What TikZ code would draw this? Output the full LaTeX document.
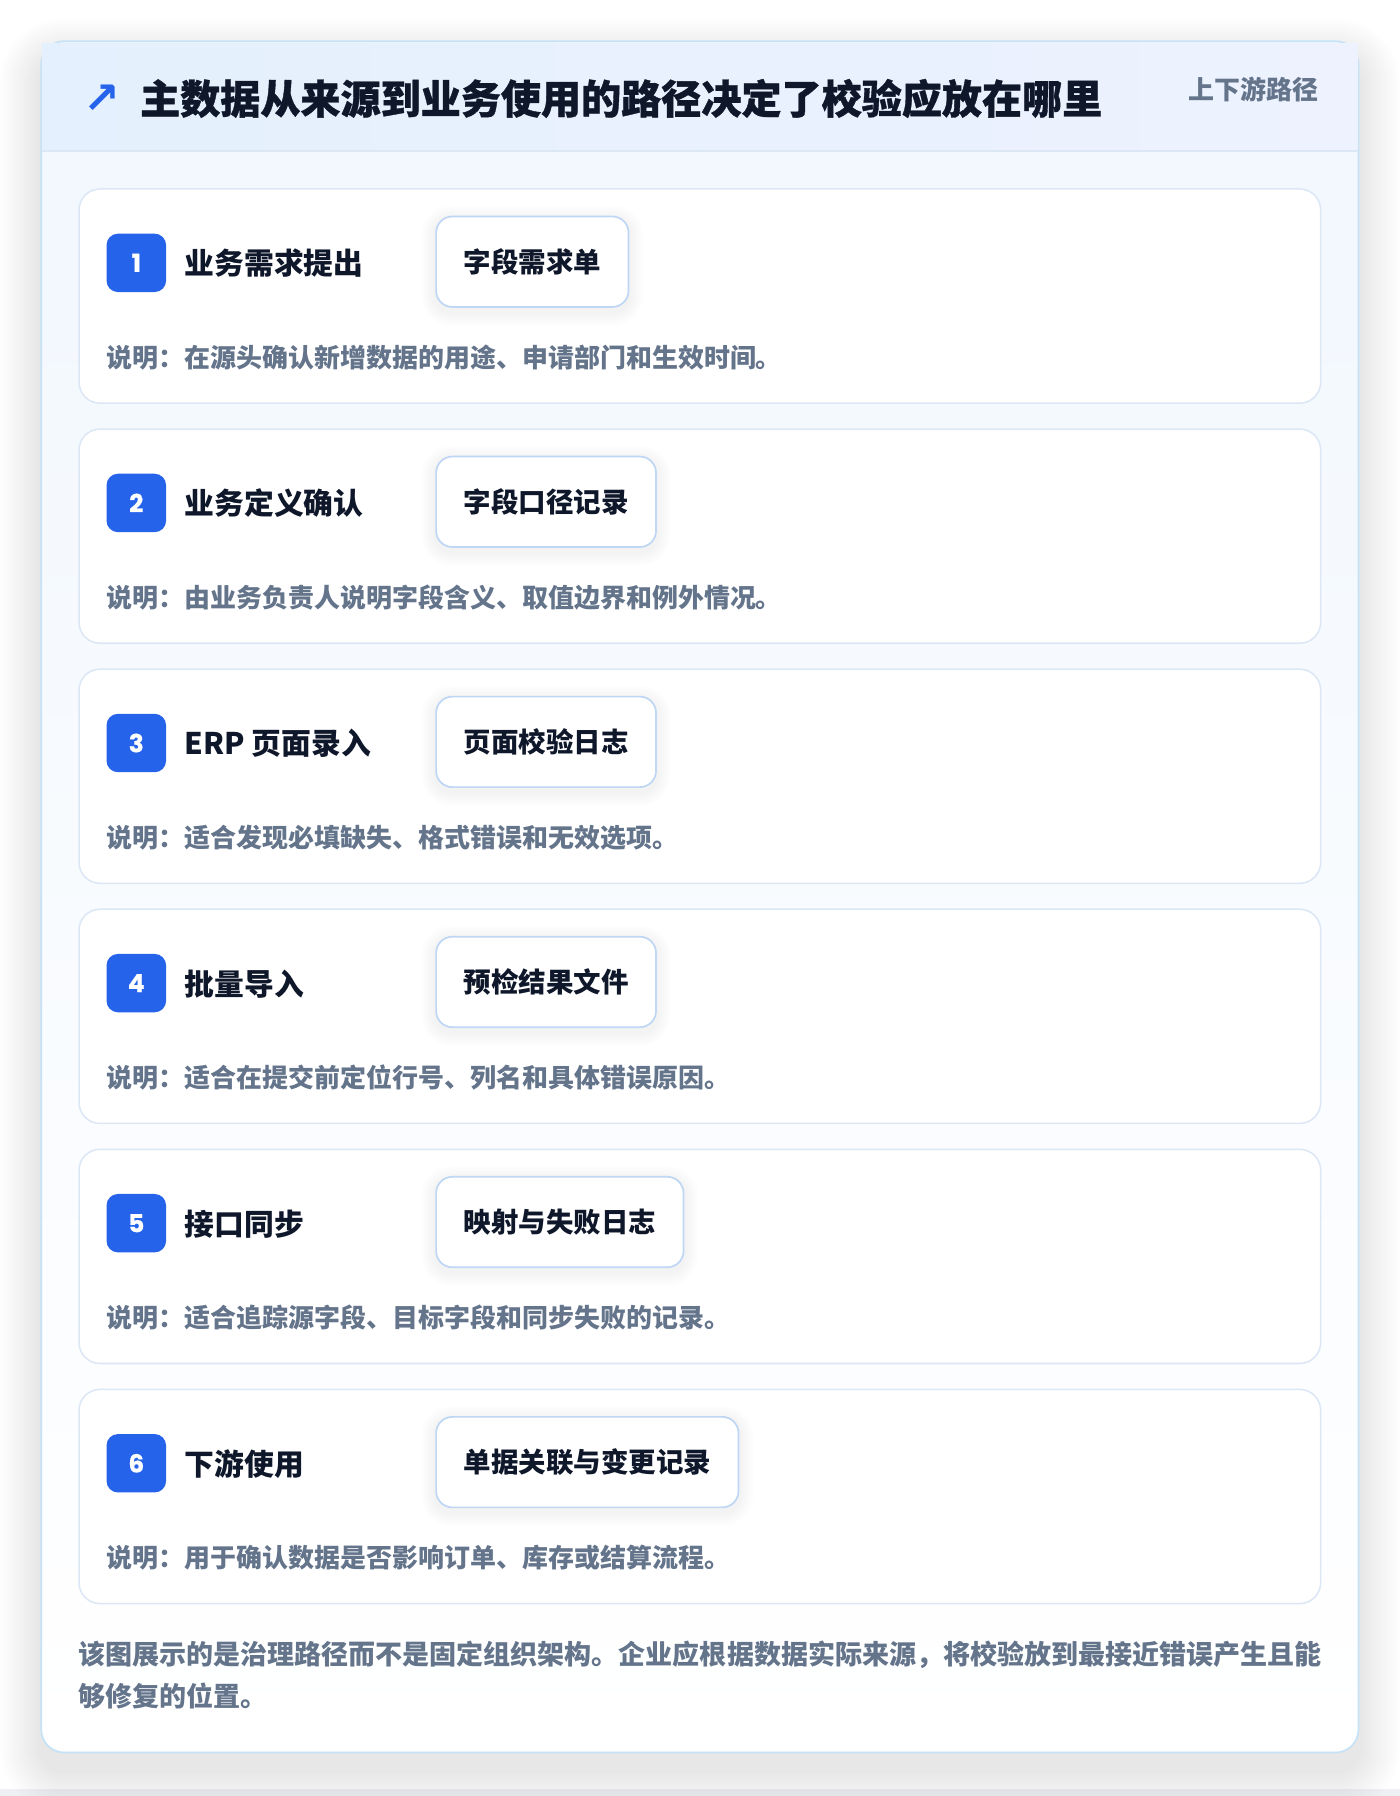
\documentclass[tikz,border=0pt]{standalone}
\usepackage{fontspec}
\setmainfont{Noto Sans CJK SC}
\newfontfamily\titlefont{Noto Sans CJK SC}[BoldFeatures={FakeBold=0.9}]
\newfontfamily\symfont{DejaVu Sans}
\newfontfamily\numfont{Poppins}[BoldFeatures={FakeBold=0.6}]
\usetikzlibrary{backgrounds}
\pgfdeclarelayer{back}
\pgfdeclarelayer{cards}
\pgfdeclarelayer{shades}
\pgfsetlayers{back,cards,shades,main}
\definecolor{bluebadge}{HTML}{2563EB}
\definecolor{titlec}{HTML}{0F172A}
\definecolor{grayt}{HTML}{64748B}
\definecolor{cardb}{HTML}{DCE7F5}
\definecolor{boxb}{HTML}{BFD6F4}
\definecolor{outerb}{HTML}{C6E2F6}
\definecolor{headA}{HTML}{E4F0FD}
\definecolor{headB}{HTML}{EDF2FE}
\definecolor{bodyA}{HTML}{F1F7FE}
\definecolor{pagebot}{HTML}{EEF0F4}
\definecolor{shadowc}{HTML}{1E293B}
\begin{document}
\begin{tikzpicture}[x=0.6pt,y=-0.6pt,
  badge/.style={fill=bluebadge, rounded corners=6pt, minimum width=31.2pt, minimum height=30.6pt,
    text=white, font=\numfont\bfseries\fontsize{13}{15}\selectfont, inner sep=0pt},
  steplabel/.style={anchor=west, font=\bfseries\fontsize{15.6}{18}\selectfont, text=titlec, inner sep=0pt},
  keybox/.style={anchor=west, draw=boxb, line width=0.9pt, fill=white, rounded corners=8.5pt,
    minimum height=47.4pt, inner xsep=14.4pt, inner ysep=0pt,
    font=\bfseries\fontsize{14.4}{17}\selectfont, text=titlec},
  desctext/.style={anchor=west, font=\bfseries\fontsize{13.6}{16}\selectfont, text=grayt, inner sep=0pt},
  stepcard/.style={draw=cardb, line width=0.8pt, fill=white, rounded corners=11pt},
  foottext/.style={anchor=west, font=\bfseries\fontsize{14.16}{17}\selectfont, text=grayt, inner sep=0pt}
]
\useasboundingbox (0,0) rectangle (1222,1568);
\begin{pgfonlayer}{back}
\fill[white] (0,0) rectangle (1222,1568);
\fill[pagebot] (0,1562) rectangle (1222,1568);
% soft shadow of the outer card
\foreach \k in {1,...,12}{
  \pgfmathsetmacro{\rr}{12+\k*1.8}
  \fill[shadowc, opacity=0.008, rounded corners=\rr pt]
    (36-\k*3,36-\k*3+16) rectangle (1186+\k*3,1530+\k*3+16);
}
% outer card
\path[draw=outerb, line width=0.9pt, top color=bodyA, bottom color=white, rounded corners=12pt]
  (36,36) rectangle (1186,1530);
% header band
\path[left color=headA, right color=headB] (36.6,38) rectangle (1185.4,132);
\draw[cardb, line width=0.9pt] (36.6,132) -- (1185.4,132);
\end{pgfonlayer}
\node[text=bluebadge, font=\symfont\bfseries\fontsize{23}{26}\selectfont, inner sep=0pt] (arrow) at (89,87) {↗};
\node[anchor=west, font=\titlefont\bfseries\fontsize{21}{26}\selectfont, text=titlec, inner sep=0pt] (title) at (122,86)
  {主数据从来源到业务使用的路径决定了校验应放在哪里};
\node[anchor=east, font=\bfseries\fontsize{13.6}{16}\selectfont, text=grayt, inner sep=0pt] (tag) at (1151,78) {上下游路径};
% steps
\foreach \i/\lab/\kb/\desc in {
  1/业务需求提出/字段需求单/说明：在源头确认新增数据的用途、申请部门和生效时间。,
  2/业务定义确认/字段口径记录/说明：由业务负责人说明字段含义、取值边界和例外情况。,
  3/ERP 页面录入/页面校验日志/说明：适合发现必填缺失、格式错误和无效选项。,
  4/批量导入/预检结果文件/说明：适合在提交前定位行号、列名和具体错误原因。,
  5/接口同步/映射与失败日志/说明：适合追踪源字段、目标字段和同步失败的记录。,
  6/下游使用/单据关联与变更记录/说明：用于确认数据是否影响订单、库存或结算流程。}{
  \pgfmathsetmacro{\T}{165+(\i-1)*209.6}
  \begin{pgfonlayer}{cards}
  \path[stepcard] (69,\T) rectangle (1153,\T+187);
  \end{pgfonlayer}
  \node[badge] (b\i) at (119,\T+64.5) {\i};
  \node[steplabel] (l\i) at (161,\T+65) {\lab};
  \node[keybox] (k\i) at (380,\T+63.5) {\kb};
  \node[desctext] (d\i) at (93,\T+147) {\desc};
  \begin{pgfonlayer}{shades}
  \foreach \s in {1,...,6}{
    \pgfmathsetmacro{\rs}{8.5+\s*1.2}
    \fill[shadowc, opacity=0.009, rounded corners=\rs pt]
      ([xshift=-\s*1.2pt,yshift=-\s*1.2pt-2pt]k\i.south west) rectangle ([xshift=\s*1.2pt,yshift=\s*1.2pt-2pt]k\i.north east);
  }
  \end{pgfonlayer}
}
\node[foottext] (foot1) at (68,1445) {该图展示的是治理路径而不是固定组织架构。企业应根据数据实际来源，将校验放到最接近错误产生且能};
\node[foottext] (foot2) at (68,1481) {够修复的位置。};
\end{tikzpicture}
\end{document}
